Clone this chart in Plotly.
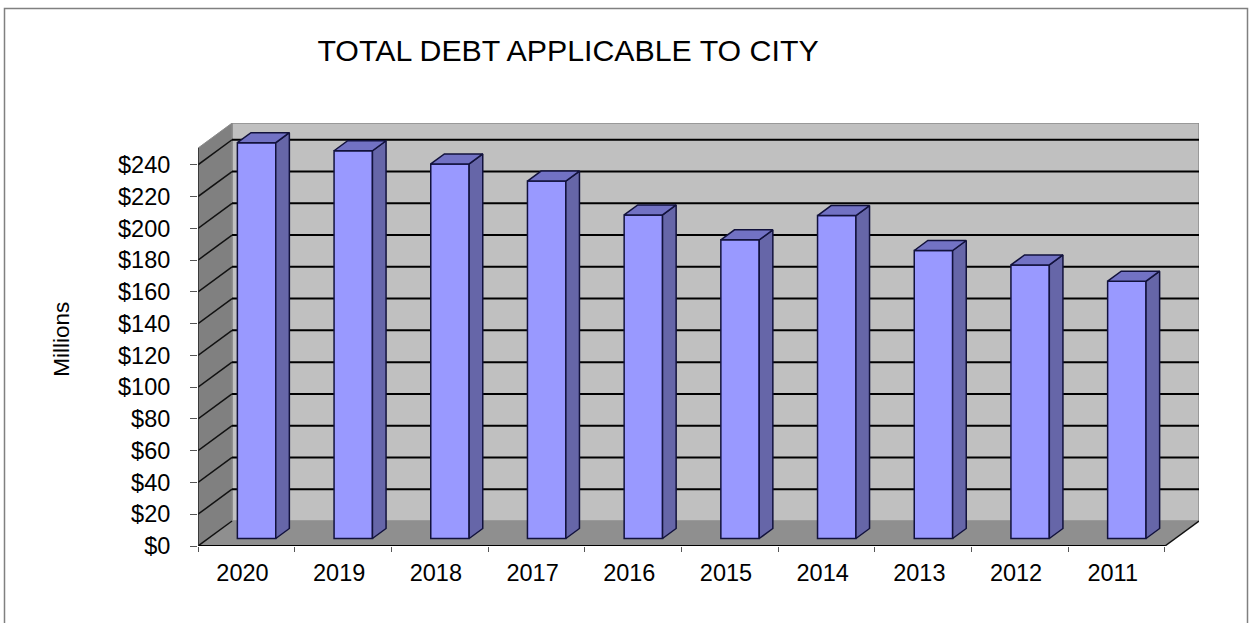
import plotly.graph_objects as go

years = ["2020", "2019", "2018", "2017", "2016", "2015", "2014", "2013", "2012", "2011"]
debt_millions = [249.2, 244.1, 235.8, 225.0, 203.7, 188.0, 203.3, 181.3, 172.2, 162.0]
axis_ticks = list(range(0, 241, 20))
axis_labels = [f"${t}" for t in axis_ticks]

# Oblique depth of the chart box, in axis units
DEPTH_X = 0.352
DEPTH_Y = 15.75
WALL_TOP = 250.5
BAR_WIDTH = 0.397
BAR_NEAR = 0.30
BAR_FAR = 0.70

positions = list(range(len(years)))
x_left, x_right = -0.5, 9.5
bar_x = [p + BAR_NEAR * DEPTH_X for p in positions]
bar_base = BAR_NEAR * DEPTH_Y
depth_x = (BAR_FAR - BAR_NEAR) * DEPTH_X
depth_y = (BAR_FAR - BAR_NEAR) * DEPTH_Y

EDGE = "#12123c"


def polygon(points, fill, line=None, width=0):
    path = "M " + " L ".join(f"{x},{y}" for x, y in points) + " Z"
    return dict(type="path", path=path, xref="x", yref="y", layer="below",
                fillcolor=fill, line=dict(color=line or fill, width=width))


def segment(x0, y0, x1, y1, color="#000000", width=2):
    return dict(type="line", xref="x", yref="y", layer="below",
                x0=x0, y0=y0, x1=x1, y1=y1, line=dict(color=color, width=width))


shapes = [
    # Back wall, side wall and floor
    polygon([(x_left + DEPTH_X, DEPTH_Y), (x_right + DEPTH_X, DEPTH_Y),
             (x_right + DEPTH_X, WALL_TOP + DEPTH_Y), (x_left + DEPTH_X, WALL_TOP + DEPTH_Y)],
            "#c0c0c0", "#8c8c8c", 1.5),
    polygon([(x_left, 0), (x_left + DEPTH_X, DEPTH_Y),
             (x_left + DEPTH_X, WALL_TOP + DEPTH_Y), (x_left, WALL_TOP)], "#808080", "#8c8c8c", 1),
    polygon([(x_left, 0), (x_right, 0), (x_right + DEPTH_X, DEPTH_Y), (x_left + DEPTH_X, DEPTH_Y)],
            "#8f8f8f"),
]
for t in axis_ticks:
    shapes.append(segment(x_left, t, x_left + DEPTH_X, t + DEPTH_Y, "#111111", 1.5))
    if t > 0:
        shapes.append(segment(x_left + DEPTH_X, t + DEPTH_Y, x_right + DEPTH_X, t + DEPTH_Y))
shapes += [
    segment(x_right, 0, x_right + DEPTH_X, DEPTH_Y, "#111111", 1.5),
    segment(x_left, 0, x_right, 0),
    segment(x_left, 0, x_left, WALL_TOP, "#222222", 1.5),
    # Page frame
    dict(type="rect", xref="paper", yref="paper", layer="below",
         x0=-193.5 / 1001, x1=1049.5 / 1001, y0=-0.2, y1=1 + 114.5 / 422.7,
         line=dict(color="#808080", width=1.5), fillcolor="rgba(0,0,0,0)"),
]

side_x, side_y, top_x, top_y = [], [], [], []
for x, v in zip(bar_x, debt_millions):
    near_l, near_r = x - BAR_WIDTH / 2, x + BAR_WIDTH / 2
    low, high = bar_base, bar_base + v
    side_x += [near_r, near_r + depth_x, near_r + depth_x, near_r, near_r, None]
    side_y += [low, low + depth_y, high + depth_y, high, low, None]
    top_x += [near_l, near_l + depth_x, near_r + depth_x, near_r, near_l, None]
    top_y += [high, high + depth_y, high + depth_y, high, high, None]

fig = go.Figure()
fig.add_trace(go.Bar(x=bar_x, y=debt_millions, base=bar_base, width=BAR_WIDTH,
                     marker=dict(color="#9999ff", line=dict(color=EDGE, width=1.5)),
                     hoverinfo="skip"))
fig.add_trace(go.Scatter(x=side_x, y=side_y, mode="lines", fill="toself", fillcolor="#6666a8",
                         line=dict(color=EDGE, width=1.5), hoverinfo="skip"))
fig.add_trace(go.Scatter(x=top_x, y=top_y, mode="lines", fill="toself", fillcolor="#7272c4",
                         line=dict(color=EDGE, width=1.5), hoverinfo="skip"))

font = "Liberation Sans, Arial, sans-serif"
fig.update_layout(
    width=1249, height=623, autosize=False,
    margin=dict(l=198, r=50, t=123, b=77.3),
    paper_bgcolor="#ffffff", plot_bgcolor="#ffffff",
    showlegend=False, shapes=shapes,
    font=dict(family=font, color="#000000"),
    title=dict(text="TOTAL DEBT APPLICABLE TO CITY", x=568 / 1249, y=1 - 50.5 / 623,
               xanchor="center", yanchor="middle", font=dict(size=30.3, family=font)),
    xaxis=dict(range=[-0.5, 9.852], tickvals=[p - 0.04 for p in positions], ticktext=years,
               ticks="", showgrid=False, zeroline=False, showline=False,
               tickfont=dict(size=23.5), ticklabelstandoff=10,
               minor=dict(tickvals=[p - 0.5 for p in range(len(years) + 1)], ticks="outside",
                          ticklen=5, tickwidth=1, tickcolor="#555555", showgrid=False)),
    yaxis=dict(range=[0, 266.3], tickvals=axis_ticks, ticktext=axis_labels, ticks="outside",
               ticklen=7, tickwidth=1, tickcolor="#555555", showgrid=False, zeroline=False,
               showline=False, tickfont=dict(size=23.5), ticklabelstandoff=15),
    annotations=[dict(text="Millions", textangle=-90, xref="paper", yref="paper",
                      x=-136 / 1001, y=(545.7 - 339.5) / 422.7, showarrow=False,
                      xanchor="center", yanchor="middle",
                      font=dict(size=22.5, family=font))],
)
fig.write_html("out.html", config={"displayModeBar": False})
